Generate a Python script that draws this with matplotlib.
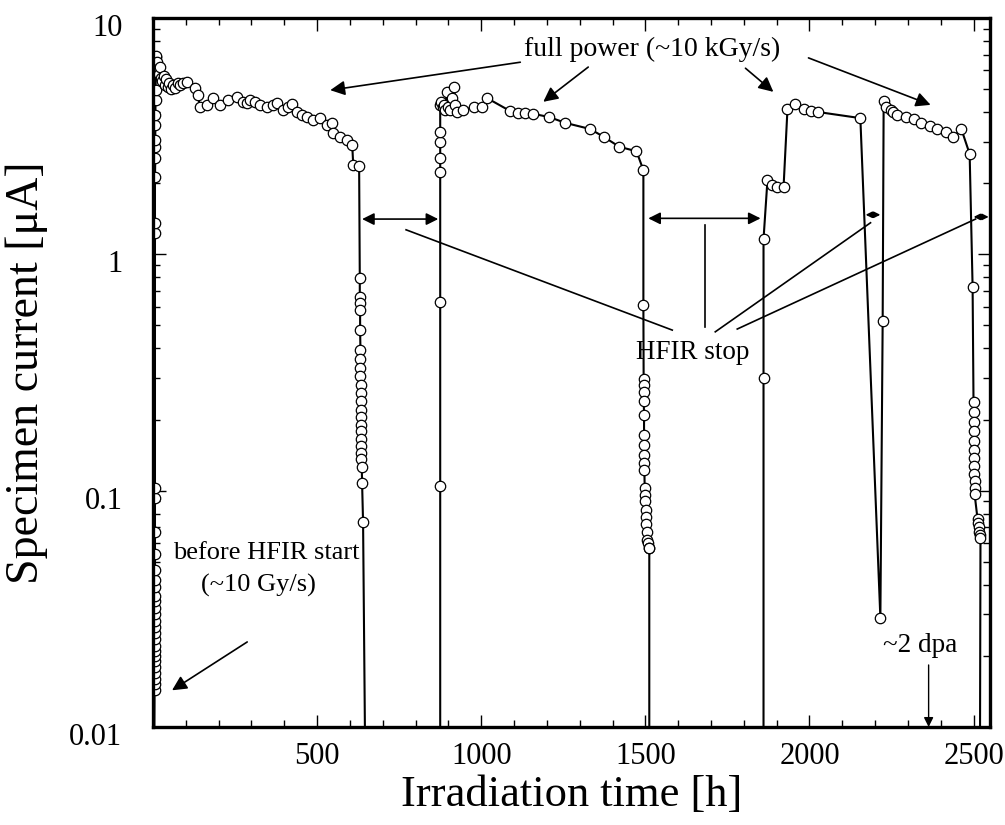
import numpy as np
import matplotlib
matplotlib.use('Agg')
import matplotlib.pyplot as plt
import matplotlib.transforms as mtransforms
from matplotlib.ticker import FixedLocator, NullFormatter, LogLocator

# irradiation time [h] and specimen current [uA]; 0.001 marks the trace leaving the bottom of the scale
rise1_t = [0, 5, 5, 5, 5, 5, 5, 5, 5, 6, 6, 6, 6, 6, 6, 6, 6, 6, 6, 6, 6, 6, 6, 6, 6,
           6, 6, 6, 7, 7, 7, 7, 7, 8, 8, 9, 9]
rise1_i = [0.001, 0.0143, 0.0152, 0.016, 0.017, 0.018, 0.019, 0.020, 0.021, 0.022, 0.0235,
           0.025, 0.0265, 0.028, 0.030, 0.032, 0.034, 0.036, 0.039, 0.042, 0.046, 0.054,
           0.067, 0.093, 0.103, 1.23, 1.36, 2.12, 2.56, 2.85, 3.05, 3.53, 3.89, 4.5, 4.96,
           6.45, 6.84]

run1_t = [10, 13, 16, 19, 22, 25, 28, 32, 36, 40, 45, 50, 56, 62, 68, 75, 83, 92, 103,
          128, 137, 143, 164, 183, 204, 229, 256, 274, 285, 296, 310, 326, 347, 365, 378,
          397, 410, 424, 439, 455, 469, 488, 509, 530, 546, 549, 570, 591, 607, 610, 628]
run1_i = [6.9, 6.5, 6.1, 5.8, 6.2, 5.6, 5.4, 5.7, 5.2, 5.5, 5.1, 5.3, 5.0, 5.2, 5.05, 5.3,
          5.2, 5.3, 5.37,
          5.06, 4.72, 4.2, 4.29, 4.57, 4.29, 4.5, 4.63, 4.42, 4.35, 4.5, 4.4, 4.29, 4.2, 4.3,
          4.37, 4.08, 4.2, 4.33, 4.0, 3.9, 3.81, 3.7, 3.76, 3.52, 3.6, 3.26, 3.13, 3.05, 2.9,
          2.39, 2.36]

drop1_t = [630, 630, 631, 631, 631, 632, 632, 632, 632, 633, 633, 633, 633, 634, 634, 634,
           634, 635, 635, 635, 636, 637, 640, 652]
drop1_i = [0.794, 0.659, 0.62, 0.58, 0.478, 0.394, 0.36, 0.33, 0.305, 0.28, 0.26, 0.24,
           0.22, 0.205, 0.19, 0.178, 0.166, 0.155, 0.145, 0.136, 0.126, 0.108, 0.0736, 0.001]

run2_t = [875, 875, 875, 875, 875, 875, 875, 875, 878, 882, 886, 890, 895, 900, 905, 910,
          918, 920, 925, 945, 978, 1003, 1018, 1088, 1113, 1134, 1159, 1207, 1256, 1332,
          1375, 1421, 1473, 1494]
run2_i = [0.001, 0.105, 0.63, 2.23, 2.56, 2.99, 3.3, 4.3, 4.4, 4.2, 4.3, 4.1, 4.87, 4.2,
          4.1, 4.6, 5.1, 4.3, 4.0, 4.08, 4.2, 4.2, 4.58, 4.04, 3.96, 3.96, 3.93, 3.81, 3.6,
          3.39, 3.13, 2.85, 2.73, 2.27]

drop2_t = [1494, 1495, 1495, 1495, 1495, 1496, 1496, 1496, 1496, 1497, 1497, 1498, 1499,
           1500, 1501, 1502, 1503, 1504, 1506, 1508, 1510, 1512, 1512]
drop2_i = [0.61, 0.296, 0.279, 0.262, 0.24, 0.209, 0.172, 0.156, 0.141, 0.131, 0.122,
           0.103, 0.0957, 0.09, 0.083, 0.077, 0.072, 0.067, 0.062, 0.06, 0.0572, 0.0572, 0.001]

run3_t = [1860, 1860, 1860, 1872, 1887, 1902, 1921, 1933, 1957, 1982, 2006, 2027, 2155,
          2216, 2223, 2226]
run3_i = [0.001, 0.30, 1.16, 2.06, 1.96, 1.92, 1.92, 4.12, 4.33, 4.12, 4.04, 4.0, 3.77,
          0.029, 0.52, 4.46]

run4_t = [2232, 2247, 2256, 2268, 2293, 2317, 2341, 2366, 2390, 2415, 2436, 2463, 2488,
          2497, 2500, 2500, 2500, 2501, 2501, 2501, 2502, 2502, 2502, 2503, 2503, 2503,
          2512, 2514, 2516, 2518, 2520, 2521, 2518]
run4_i = [4.2, 4.08, 4.0, 3.88, 3.8, 3.73, 3.6, 3.48, 3.4, 3.28, 3.13, 3.38, 2.66, 0.727,
          0.237, 0.215, 0.195, 0.178, 0.162, 0.148, 0.137, 0.127, 0.118, 0.11, 0.103, 0.097,
          0.076, 0.073, 0.07, 0.067, 0.065, 0.063, 0.001]

# HFIR stop periods (start, end) [h]
stops = [(637, 869), (1509, 1851), (2171, 2216), (2500, 2546)]
stop_level = [1.41, 1.42, 1.47, 1.44]

plt.rcParams['font.family'] = ['Liberation Serif', 'DejaVu Serif']

fig = plt.figure(figsize=(10.05, 8.25), dpi=100)
ax = fig.add_axes([153 / 1005, 1 - 727 / 825, (990 - 153) / 1005, (727 - 18) / 825])

t_all = rise1_t + run1_t + drop1_t + run2_t + drop2_t + run3_t + run4_t
i_all = rise1_i + run1_i + drop1_i + run2_i + drop2_i + run3_i + run4_i
ax.plot(t_all, i_all, '-o', color='black', lw=1.5, ms=7.5, mfc='white', mec='black', mew=0.9)

ax.set_yscale('log')
ax.set_xlim(0, 2550)
ax.set_ylim(0.01, 10)

ax.set_xticks([500, 1000, 1500, 2000, 2500])
ax.set_xticklabels(['500', '1000', '1500', '2000', '2500'])
ax.xaxis.set_minor_locator(FixedLocator(np.arange(100, 2550, 100)))
ax.set_yticks([0.01, 0.1, 1, 10])
ax.set_yticklabels(['0.01', '0.1', '1', '10'])
ax.yaxis.set_minor_locator(LogLocator(base=10, subs=np.arange(2, 10)))
ax.yaxis.set_minor_formatter(NullFormatter())

ax.tick_params(which='both', direction='in', top=True, right=True, width=1.0,
               labelsize=22)
ax.tick_params(which='major', length=9)
ax.tick_params(which='minor', length=5)
ax.tick_params(axis='x', pad=11)
ax.tick_params(axis='y', pad=22)
shift = mtransforms.ScaledTranslation(0, -0.07, fig.dpi_scale_trans)
for lab in ax.get_yticklabels():
    lab.set_transform(lab.get_transform() + shift)
for sp in ax.spines.values():
    sp.set_linewidth(2.4)

ax.set_xlabel('Irradiation time [h]', fontsize=32)
ax.xaxis.set_label_coords(0.5, -0.068)
ax.set_ylabel('Specimen current [μA]', fontsize=33)
ax.yaxis.set_label_coords(-0.125, 0.5)

# annotations
arrow = dict(arrowstyle='-|>', color='black', lw=1.2, mutation_scale=22, shrinkA=0, shrinkB=0)
ax.text(1521, 7.35, 'full power (~10 kGy/s)', fontsize=20, ha='center', va='center')
ax.annotate('', xy=(540, 4.95), xytext=(1119, 6.5), arrowprops=arrow)
ax.annotate('', xy=(1189, 4.42), xytext=(1326, 6.2), arrowprops=arrow)
ax.annotate('', xy=(1890, 4.87), xytext=(1805, 6.13), arrowprops=arrow)
ax.annotate('', xy=(2369, 4.29), xytext=(1997, 6.78), arrowprops=arrow)

for (a, b), lvl in zip(stops, stop_level):
    ms = 18 if b - a > 100 else 9
    ax.annotate('', xy=(a, lvl), xytext=(b, lvl),
                arrowprops=dict(arrowstyle='<|-|>', color='black', lw=1.2,
                                mutation_scale=ms, shrinkA=0, shrinkB=0))

ax.text(1643, 0.386, 'HFIR stop', fontsize=19.5, ha='center', va='center')
ax.plot([771, 1582], [1.27, 0.478], color='black', lw=1.2)
ax.plot([1683, 1683], [1.33, 0.492], color='black', lw=1.2)
ax.plot([1713, 2186], [0.47, 1.36], color='black', lw=1.2)
ax.plot([1780, 2506], [0.483, 1.41], color='black', lw=1.2)

ax.text(345, 0.0544, 'before HFIR start', fontsize=19, ha='center', va='center')
ax.text(320, 0.0398, '(~10 Gy/s)', fontsize=19, ha='center', va='center')
ax.annotate('', xy=(58, 0.0143), xytext=(287, 0.0229), arrowprops=arrow)

ax.text(2338, 0.0222, '~2 dpa', fontsize=19.5, ha='center', va='center')
ax.annotate('', xy=(2363, 0.01), xytext=(2363, 0.0183),
            arrowprops=dict(arrowstyle='-|>', color='black', lw=1.0, mutation_scale=14,
                            shrinkA=0, shrinkB=0))

fig.savefig('out.png', dpi=100)
